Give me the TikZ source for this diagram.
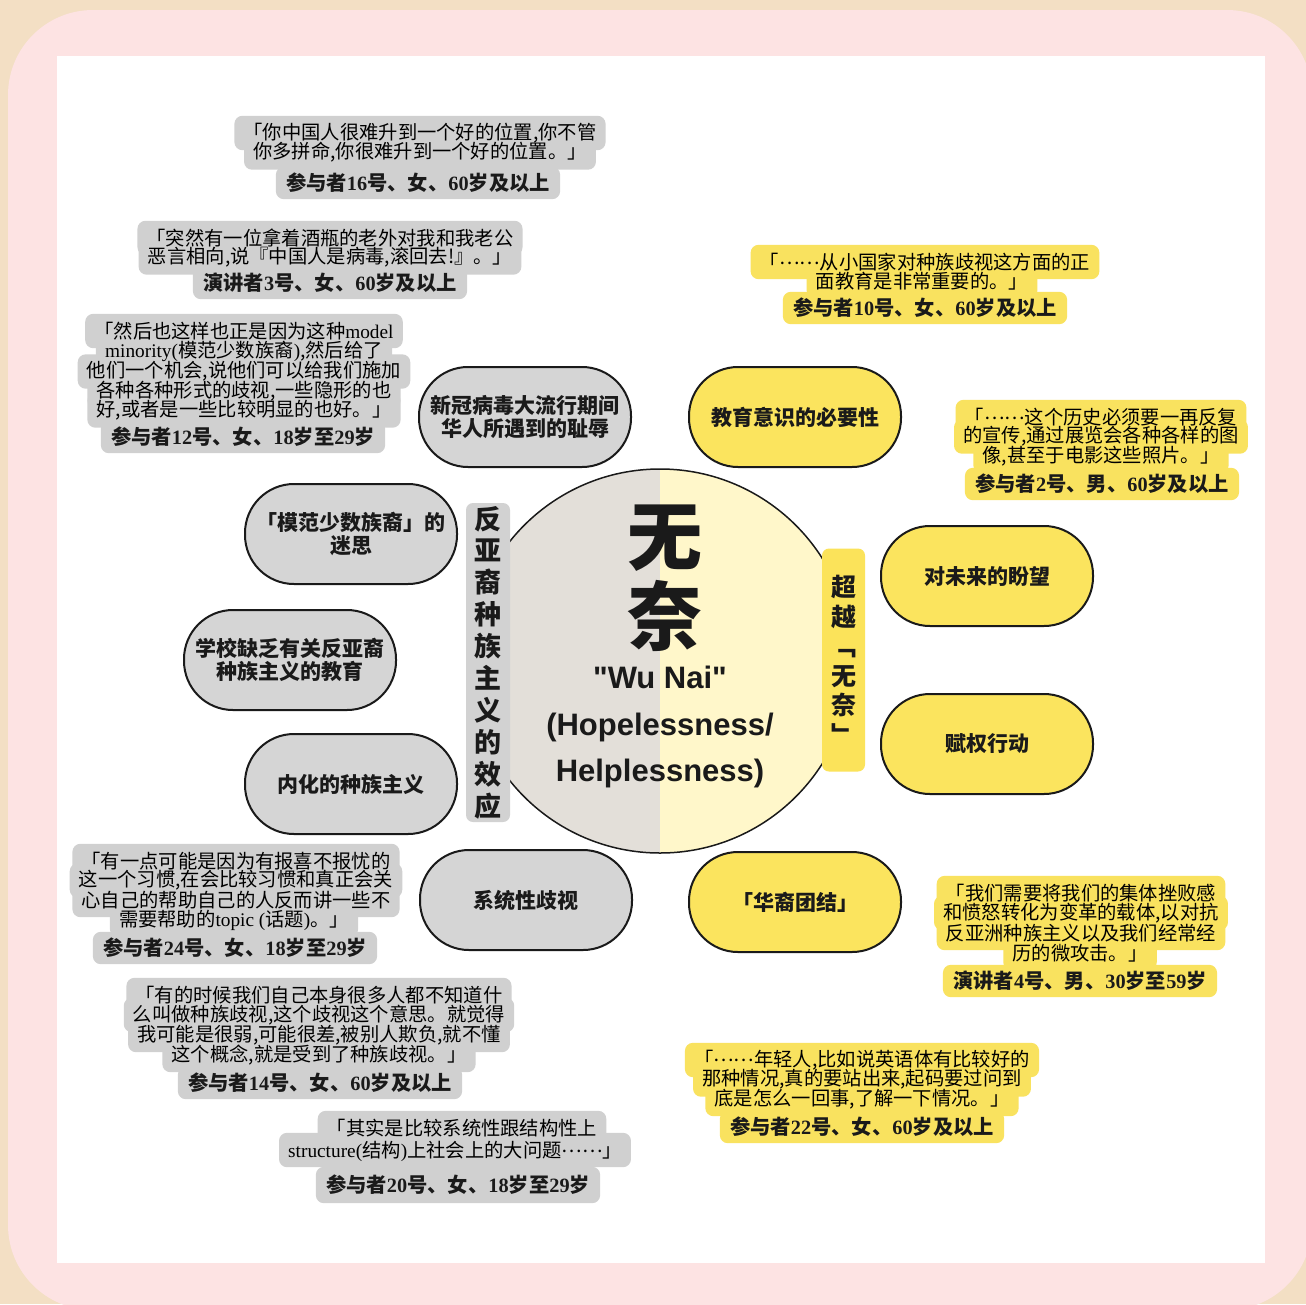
\documentclass[tikz,border=0pt]{standalone}
\usepackage{fontspec}
\setmainfont{Noto Sans CJK SC}
\newfontfamily\lser{Liberation Serif}
\newfontfamily\lsans{Liberation Sans}
\newcommand\lat[1]{{\lser\smash{#1}}}
\newcommand\midell{\smash{\raisebox{.25em}{……}}}
\definecolor{bgbeige}{HTML}{F3DFC4}
\definecolor{pinkbg}{HTML}{FDE3E3}
\definecolor{pillgray}{HTML}{D5D5D5}
\definecolor{pillyellow}{HTML}{FBE45E}
\definecolor{quotegray}{HTML}{D0D0D0}
\definecolor{quoteyellow}{HTML}{F9E25F}
\definecolor{labelgray}{HTML}{D2D2D2}
\definecolor{labelyellow}{HTML}{FBE35A}
\definecolor{circleleft}{HTML}{E3DFD9}
\definecolor{circleright}{HTML}{FFF7CA}
\definecolor{ink}{HTML}{1A1A1A}
\pgfdeclarelayer{back}
\pgfdeclarelayer{qbg}
\pgfsetlayers{back,qbg,main}
\tikzset{
  pill/.style={draw=ink, line width=2pt, rounded corners=49pt, minimum width=212pt,
    minimum height=100pt, align=center, inner sep=0pt, text=ink,
    font=\bfseries\fontsize{21}{23}\selectfont},
  gpill/.style={pill, fill=pillgray},
  ypill/.style={pill, fill=pillyellow},
  qline/.style={inner xsep=9pt, inner ysep=0pt, minimum height=34pt,
    text=black, font=\fontsize{19.3}{20}\selectfont},
  aline/.style={inner xsep=10pt, inner ysep=0pt, minimum height=32pt,
    text=ink, font=\bfseries\fontsize{20.3}{21}\selectfont},
  qbox/.style={rounded corners=8pt},
  vlabel/.style={rounded corners=7pt, inner sep=0pt, align=center, text=ink},
}
\begin{document}
\begin{tikzpicture}[x=1pt,y=-1pt]
\useasboundingbox (0,0) rectangle (1306,1304);
% background
\begin{pgfonlayer}{back}
\fill[bgbeige] (0,0) rectangle (1306,1304);
\fill[pinkbg, rounded corners=85pt] (8,10) rectangle (1312,1310);
\fill[white] (57,56) rectangle (1265,1263);
\end{pgfonlayer}

% central circle
\node[circle, minimum size=384pt, inner sep=0pt, draw=ink, line width=1.5pt,
  path picture={
    \fill[circleleft] (path picture bounding box.south west) rectangle (path picture bounding box.north);
    \fill[circleright] (path picture bounding box.south) rectangle (path picture bounding box.north east);
  }] (core) at (660,661) {};
\node[text=ink, font=\bfseries\fontsize{75}{75}\selectfont, inner sep=0pt] (wu) at (665,538) {无};
\node[text=ink, font=\bfseries\fontsize{75}{75}\selectfont, inner sep=0pt] (nai) at (665,616) {奈};
\node[text=ink, align=center, inner sep=0pt, font=\lsans\bfseries\fontsize{31}{46.5}\selectfont] (en) at (660,727) {"Wu Nai"\\(Hopelessness/\\Helplessness)};

% vertical labels
\node[vlabel, fill=labelgray, minimum width=44pt, minimum height=319pt,
  font=\bfseries\fontsize{27}{31.9}\selectfont] (vl) at (488,662.5) {反\\亚\\裔\\种\\族\\主\\义\\的\\效\\应};
\node[vlabel, fill=labelyellow, minimum width=43pt, minimum height=223pt,
  font=\bfseries\fontsize{25}{29.5}\selectfont] (vr) at (843.5,660) {超\\越\\﹁\\无\\奈\\﹂};

% pills
\node[gpill] (p1) at (525,417) {新冠病毒大流行期间\\华人所遇到的耻辱};
\node[ypill] (p2) at (795,417) {教育意识的必要性};
\node[gpill] (p3) at (351,534) {「模范少数族裔」的\\迷思};
\node[gpill] (p4) at (290,660) {学校缺乏有关反亚裔\\种族主义的教育};
\node[gpill] (p5) at (351,784) {内化的种族主义};
\node[gpill] (p6) at (526,900) {系统性歧视};
\node[ypill] (p7) at (987,576) {对未来的盼望};
\node[ypill] (p8) at (987,744) {赋权行动};
\node[ypill] (p9) at (795,902) {「华裔团结」};

% quote 1
\node[qline] (q1a) at (420,133) {「你中国人很难升到一个好的位置,你不管};
\node[qline] (q1b) at (420,152.5) {你多拼命,你很难升到一个好的位置。」};
\node[aline] (q1c) at (418,183) {参与者\lat{16}号、女、\lat{60}岁及以上};

% quote 2
\node[qline] (q2a) at (330,238) {「突然有一位拿着酒瓶的老外对我和我老公};
\node[qline] (q2b) at (330,257.5) {恶言相向,说『中国人是病毒,滚回去!』。」};
\node[aline] (q2c) at (330,283) {演讲者\lat{3}号、女、\lat{60}岁及以上};

% quote 3
\node[qline] (q3a) at (244,331) {「然后也这样也正是因为这种\lat{model}};
\node[qline] (q3b) at (244,351.5) {\lat{minority(}模范少数族裔\lat{)},然后给了};
\node[qline] (q3c) at (244,371.5) {他们一个机会,说他们可以给我们施加};
\node[qline] (q3d) at (244,391) {各种各种形式的歧视,一些隐形的也};
\node[qline] (q3e) at (244,410.5) {好,或者是一些比较明显的也好。」};
\node[aline] (q3f) at (243,437) {参与者\lat{12}号、女、\lat{18}岁至\lat{29}岁};

% quote 4
\node[qline] (q4a) at (925,262) {「\midell 从小国家对种族歧视这方面的正};
\node[qline] (q4b) at (922,281.5) {面教育是非常重要的。」};
\node[aline] (q4c) at (925,308) {参与者\lat{10}号、女、\lat{60}岁及以上};

% quote 5
\node[qline] (q5a) at (1101,417) {「\midell 这个历史必须要一再反复};
\node[qline] (q5b) at (1101,436.5) {的宣传,通过展览会各种各样的图};
\node[qline] (q5c) at (1101,456) {像,甚至于电影这些照片。」};
\node[aline] (q5d) at (1102,484) {参与者\lat{2}号、男、\lat{60}岁及以上};

% quote 6
\node[qline] (q6a) at (236,861) {「有一点可能是因为有报喜不报忧的};
\node[qline] (q6b) at (236,880.5) {这一个习惯,在会比较习惯和真正会关};
\node[qline] (q6c) at (236,900) {心自己的帮助自己的人反而讲一些不};
\node[qline] (q6d) at (234,919.5) {需要帮助的\lat{topic (}话题\lat{)}。」};
\node[aline] (q6e) at (235,948) {参与者\lat{24}号、女、\lat{18}岁至\lat{29}岁};

% quote 7
\node[qline] (q7a) at (319,995) {「有的时候我们自己本身很多人都不知道什};
\node[qline] (q7b) at (319,1015) {么叫做种族歧视,这个歧视这个意思。就觉得};
\node[qline] (q7c) at (319,1035) {我可能是很弱,可能很差,被别人欺负,就不懂};
\node[qline] (q7d) at (319,1055) {这个概念,就是受到了种族歧视。」};
\node[aline] (q7e) at (320,1083) {参与者\lat{14}号、女、\lat{60}岁及以上};

% quote 8
\node[qline] (q8a) at (462,1128) {「其实是比较系统性跟结构性上};
\node[qline] (q8b) at (455,1150) {\lat{structure(}结构\lat{)}上社会上的大问题\midell」};
\node[aline, minimum height=36pt] (q8c) at (458,1185) {参与者\lat{20}号、女、\lat{18}岁至\lat{29}岁};

% quote 9
\node[qline] (q9a) at (1081,893) {「我们需要将我们的集体挫败感};
\node[qline] (q9b) at (1081,913) {和愤怒转化为变革的载体,以对抗};
\node[qline] (q9c) at (1081,933) {反亚洲种族主义以及我们经常经};
\node[qline] (q9d) at (1080,953) {历的微攻击。」};
\node[aline] (q9e) at (1080,981) {演讲者\lat{4}号、男、\lat{30}岁至\lat{59}岁};

% quote 10
\node[qline] (q10a) at (862,1060) {「\midell 年轻人,比如说英语体有比较好的};
\node[qline] (q10b) at (862,1079.5) {那种情况,真的要站出来,起码要过问到};
\node[qline] (q10c) at (862,1099) {底是怎么一回事,了解一下情况。」};
\node[aline] (q10d) at (862,1127) {参与者\lat{22}号、女、\lat{60}岁及以上};

% quote backgrounds, under the text
\begin{pgfonlayer}{qbg}
\foreach \n in {q1a,q1b,q1c,q2a,q2b,q2c,q3a,q3b,q3c,q3d,q3e,q3f,
                q6a,q6b,q6c,q6d,q6e,q7a,q7b,q7c,q7d,q7e,q8a,q8b,q8c}
  \fill[qbox, quotegray] (\n.south west) rectangle (\n.north east);
\foreach \n in {q4a,q4b,q4c,q5a,q5b,q5c,q5d,q9a,q9b,q9c,q9d,q9e,q10a,q10b,q10c,q10d}
  \fill[qbox, quoteyellow] (\n.south west) rectangle (\n.north east);
\end{pgfonlayer}
\end{tikzpicture}
\end{document}
